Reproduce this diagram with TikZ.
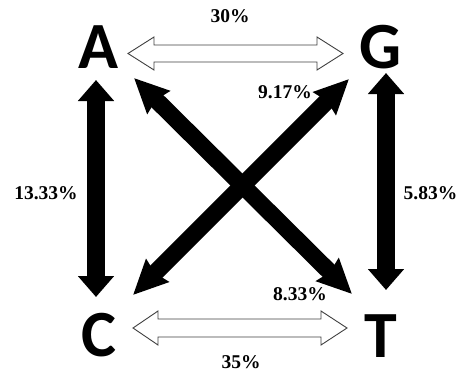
\documentclass[tikz,border=0pt]{standalone}
\usepackage{fontspec}
\setmainfont{Liberation Serif}
\newfontfamily\letterfont{Carlito}
\usetikzlibrary{arrows.meta}
\tikzset{
  letter/.style={anchor=base,inner sep=0pt,font=\letterfont\bfseries\fontsize{66}{66}\selectfont},
  pct/.style={anchor=base,inner sep=0pt,font=\bfseries\fontsize{19.5}{20}\selectfont},
  fat/.style={line width=18pt,{Triangle[width=35pt,length=21pt]}-{Triangle[width=35pt,length=21pt]}},
  fatdiag/.style={line width=17pt,{Stealth[width=31pt,length=34pt,inset=3pt]}-{Stealth[width=31pt,length=34pt,inset=3pt]}},
  hollow/.style={draw=black!75,line width=0.9pt,fill=white,line join=miter}
}
\begin{document}
\begin{tikzpicture}[x=1pt,y=-1pt]
\useasboundingbox (0,0) rectangle (460,372);
% letters
\node[letter] (A) at (98,68) {A};
\node[letter] (G) at (381,68) {G};
\node[letter] (C) at (99,356) {C};
\node[letter] (T) at (381,357) {T};
% arrow end points
\coordinate (aS) at (96,80);   \coordinate (cN) at (96,297);
\coordinate (gS) at (386,73);  \coordinate (tN) at (386,290);
\coordinate (aSE) at (134,78); \coordinate (tNW) at (352,294);
\coordinate (gSW) at (349,79); \coordinate (cNE) at (133,295);
% vertical arrows
\draw[fat] (aS) -- (cN);
\draw[fat] (gS) -- (tN);
% diagonal arrows
\draw[fatdiag] (aSE) -- (tNW);
\draw[fatdiag] (gSW) -- (cNE);
% hollow arrows
\draw[hollow] (128,53.5) -- (154,37) -- (154,45) -- (317,45) -- (317,37) -- (343,53.5)
  -- (317,70) -- (317,62) -- (154,62) -- (154,70) -- cycle;
\draw[hollow] (133,328) -- (158,311) -- (158,319) -- (321,319) -- (321,311) -- (347,328)
  -- (321,345) -- (321,337) -- (158,337) -- (158,345) -- cycle;
% labels
\node[pct] (l30) at (230,22.5) {30\%};
\node[pct] (l35) at (241,368) {35\%};
\node[pct] (l917) at (285,98) {9.17\%};
\node[pct] (l833) at (300,300.5) {8.33\%};
\node[pct] (l1333) at (46,199) {13.33\%};
\node[pct] (l583) at (430.5,199) {5.83\%};
\end{tikzpicture}
\end{document}
